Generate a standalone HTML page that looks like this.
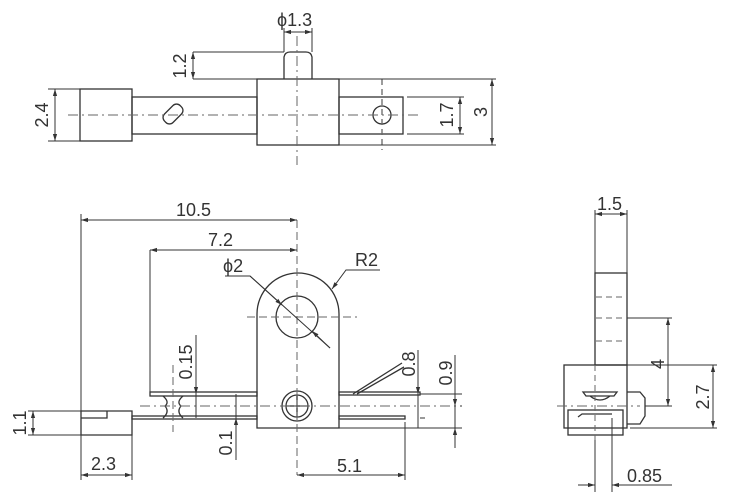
<!DOCTYPE html>
<html><head><meta charset="utf-8"><style>
html,body{margin:0;padding:0;background:#fff;}
svg{display:block;}
text{font-family:"Liberation Sans",sans-serif;font-size:18px;fill:#333;}
</style></head><body>
<svg width="749" height="503" viewBox="0 0 749 503" xmlns="http://www.w3.org/2000/svg">
<defs>
<marker id="a" viewBox="0 0 10 10" refX="10" refY="5" markerWidth="7" markerHeight="7" orient="auto-start-reverse"><path d="M0,2 L10,5 L0,8 z" fill="#333"/></marker>
</defs>
<g stroke="#333" stroke-width="1.3" fill="none">
<!-- TOP VIEW -->
<rect x="80" y="89" width="52" height="52"/>
<rect x="132" y="97" width="125" height="37"/>
<rect x="257" y="79" width="82" height="66"/>
<rect x="339" y="97" width="64" height="37"/>
<path d="M284,79 V57 Q285,52 290,52 H306 Q311,52 312,57 V79"/>
<circle cx="382" cy="115" r="9"/>
<rect x="162" y="108" width="22" height="12" rx="5" transform="rotate(-45 173 114)"/>
<g stroke="#666" stroke-width="1" stroke-dasharray="10,4,2,4">
<line x1="68" y1="115" x2="420" y2="115"/>
<line x1="297" y1="36" x2="297" y2="165"/>
</g>
<line x1="382" y1="79" x2="382" y2="150" stroke="#666" stroke-dasharray="6,4"/>
<!-- top dims -->
<g stroke-width="1">
<line x1="48" y1="89" x2="80" y2="89"/><line x1="48" y1="141" x2="80" y2="141"/>
<line x1="55" y1="89" x2="55" y2="141" marker-start="url(#a)" marker-end="url(#a)"/>
<line x1="193" y1="52" x2="284" y2="52"/><line x1="193" y1="79" x2="257" y2="79"/>
<line x1="193" y1="52" x2="193" y2="79" marker-start="url(#a)" marker-end="url(#a)"/>
<line x1="284" y1="28" x2="284" y2="52"/><line x1="312" y1="28" x2="312" y2="52"/>
<line x1="284" y1="32" x2="312" y2="32" marker-start="url(#a)" marker-end="url(#a)"/>
<line x1="407" y1="97" x2="464" y2="97"/><line x1="407" y1="134" x2="464" y2="134"/>
<line x1="460" y1="97" x2="460" y2="134" marker-start="url(#a)" marker-end="url(#a)"/>
<line x1="339" y1="79" x2="496" y2="79"/><line x1="339" y1="145" x2="496" y2="145"/>
<line x1="492" y1="79" x2="492" y2="145" marker-start="url(#a)" marker-end="url(#a)"/>
</g>

<!-- FRONT VIEW -->
<path d="M257,428 V314 A41,41 0 0 1 339,314 V428 Z"/>
<circle cx="297" cy="317" r="21"/>
<circle cx="297" cy="406" r="15"/><circle cx="297" cy="406" r="11"/>
<line x1="286" y1="406" x2="308" y2="406"/><line x1="297" y1="395" x2="297" y2="417"/>
<rect x="150" y="392" width="107" height="4"/>
<rect x="132" y="416" width="125" height="3"/>
<rect x="339" y="392" width="81" height="3"/>
<rect x="339" y="416" width="66" height="3"/>
<path d="M81,411 H132 V435 H81 Z M81,418 H107 V411"/>
<path d="M163,396 Q170,402 165,406 Q170,412 163,418 M183,396 Q176,402 181,406 Q176,412 183,418"/>
<path d="M353,394 L402,363 M357,394 L404,367"/>
<g stroke="#666" stroke-width="1" stroke-dasharray="8,4">
<line x1="247" y1="317" x2="357" y2="317"/>
<line x1="297" y1="220" x2="297" y2="475"/>
<line x1="173" y1="365" x2="173" y2="432"/>
</g>
<line x1="140" y1="406" x2="460" y2="406" stroke="#666" stroke-width="1" stroke-dasharray="10,4,2,4"/>
<g stroke-width="1">
<line x1="81" y1="214" x2="81" y2="480"/>
<line x1="81" y1="220" x2="297" y2="220" marker-start="url(#a)" marker-end="url(#a)"/>
<line x1="150" y1="250" x2="150" y2="392"/>
<line x1="150" y1="250" x2="297" y2="250" marker-start="url(#a)" marker-end="url(#a)"/>
<path d="M225,276 H250 L330,348"/>
<line x1="250" y1="276" x2="282" y2="305" marker-end="url(#a)"/>
<line x1="330" y1="348" x2="312" y2="331" marker-end="url(#a)"/>
<path d="M380,270 H346 L332,289" marker-end="url(#a)"/>
<line x1="196" y1="335" x2="196" y2="418"/>
<line x1="196" y1="370" x2="196" y2="394" marker-end="url(#a)"/>
<line x1="236" y1="394" x2="236" y2="460"/>
<line x1="236" y1="440" x2="236" y2="418" marker-end="url(#a)"/>
<line x1="420" y1="394" x2="462" y2="394"/><line x1="420" y1="418" x2="425" y2="418"/>
<line x1="339" y1="428" x2="462" y2="428"/><line x1="460" y1="406" x2="462" y2="406"/>
<line x1="418" y1="350" x2="418" y2="428"/>
<line x1="418" y1="375" x2="418" y2="394" marker-end="url(#a)"/>
<line x1="455" y1="355" x2="455" y2="448"/>
<line x1="455" y1="380" x2="455" y2="406" marker-end="url(#a)"/>
<line x1="455" y1="445" x2="455" y2="428" marker-end="url(#a)"/>
<line x1="132" y1="435" x2="132" y2="480"/>
<line x1="81" y1="475" x2="132" y2="475" marker-start="url(#a)" marker-end="url(#a)"/>
<line x1="28" y1="411" x2="81" y2="411"/><line x1="28" y1="435" x2="81" y2="435"/>
<line x1="33" y1="411" x2="33" y2="435" marker-start="url(#a)" marker-end="url(#a)"/>
<line x1="405" y1="422" x2="405" y2="480"/>
<line x1="297" y1="475" x2="405" y2="475" marker-start="url(#a)" marker-end="url(#a)"/>
</g>

<!-- SIDE VIEW -->
<rect x="595" y="273" width="32" height="92"/>
<rect x="564" y="365" width="63" height="63"/>
<rect x="568" y="410" width="55" height="25"/>
<path d="M578,417 L582,414 H612"/>
<path d="M627,392 H640 L645,398 V416 L640,424 H627"/>
<path d="M583,392 H617 L614,396 H586 Z M590,396 Q600,404 610,396"/>
<g stroke="#666" stroke-width="1" stroke-dasharray="6,4">
<line x1="596" y1="297" x2="626" y2="297"/>
<line x1="596" y1="318" x2="626" y2="318"/>
<line x1="596" y1="341" x2="626" y2="341"/>
<line x1="595" y1="365" x2="595" y2="445"/>
</g>
<line x1="557" y1="406" x2="640" y2="406" stroke="#666" stroke-width="1" stroke-dasharray="10,4,2,4"/>
<g stroke-width="1">
<line x1="595" y1="210" x2="595" y2="273"/><line x1="627" y1="210" x2="627" y2="273"/>
<line x1="595" y1="214" x2="627" y2="214" marker-start="url(#a)" marker-end="url(#a)"/>
<line x1="627" y1="318" x2="672" y2="318"/><line x1="645" y1="406" x2="672" y2="406"/>
<line x1="668" y1="318" x2="668" y2="406" marker-start="url(#a)" marker-end="url(#a)"/>
<line x1="627" y1="365" x2="717" y2="365"/><line x1="630" y1="428" x2="717" y2="428"/>
<line x1="713" y1="365" x2="713" y2="428" marker-start="url(#a)" marker-end="url(#a)"/>
<line x1="595" y1="440" x2="595" y2="492"/><line x1="612" y1="418" x2="612" y2="492"/>
<line x1="578" y1="485" x2="595" y2="485" marker-end="url(#a)"/>
<line x1="672" y1="485" x2="612" y2="485" marker-end="url(#a)"/>
</g>
</g>
<!-- labels -->
<text x="277" y="26">ϕ1.3</text>
<text transform="translate(186,66) rotate(-90)" text-anchor="middle">1.2</text>
<text transform="translate(48,115) rotate(-90)" text-anchor="middle">2.4</text>
<text transform="translate(453,115) rotate(-90)" text-anchor="middle">1.7</text>
<text transform="translate(487,112) rotate(-90)" text-anchor="middle">3</text>
<text x="176" y="216">10.5</text>
<text x="208" y="246">7.2</text>
<text x="223" y="272">ϕ2</text>
<text x="355" y="266">R2</text>
<text transform="translate(192,362) rotate(-90)" text-anchor="middle">0.15</text>
<text transform="translate(232,443) rotate(-90)" text-anchor="middle">0.1</text>
<text transform="translate(415,364) rotate(-90)" text-anchor="middle">0.8</text>
<text transform="translate(452,373) rotate(-90)" text-anchor="middle">0.9</text>
<text transform="translate(26,423) rotate(-90)" text-anchor="middle">1.1</text>
<text x="91" y="470">2.3</text>
<text x="337" y="472">5.1</text>
<text x="597" y="210">1.5</text>
<text transform="translate(664,364) rotate(-90)" text-anchor="middle">4</text>
<text transform="translate(709,397) rotate(-90)" text-anchor="middle">2.7</text>
<text x="627" y="482">0.85</text>
</svg>
</body></html>
